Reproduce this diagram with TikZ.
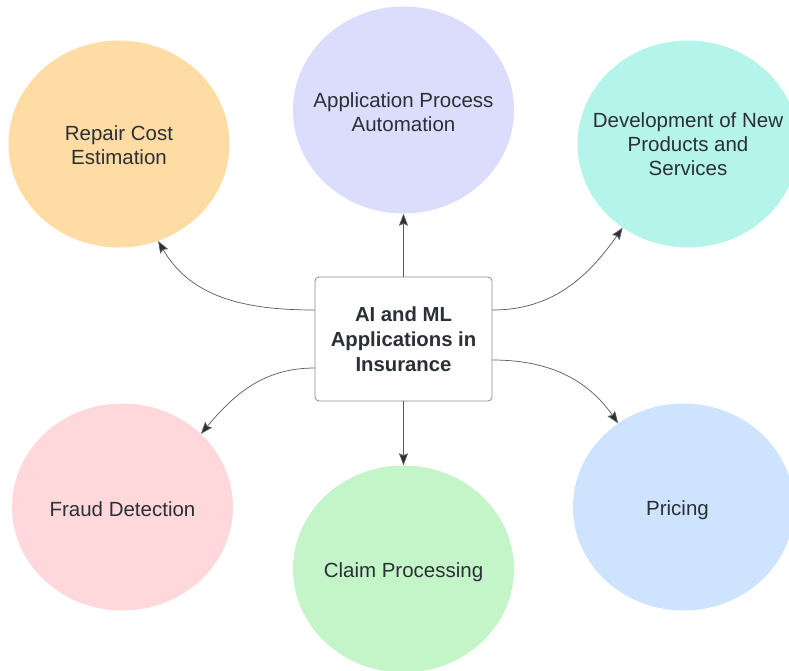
\documentclass[tikz,border=0pt]{standalone}
\usepackage{fontspec}
\setmainfont{Liberation Sans}
\usetikzlibrary{arrows.meta,shapes.geometric}
\definecolor{txt}{HTML}{2B2F36}
\definecolor{cRepair}{HTML}{FEDCA4}
\definecolor{cApp}{HTML}{DCDCFC}
\definecolor{cDev}{HTML}{B4F4EA}
\definecolor{cFraud}{HTML}{FED8DB}
\definecolor{cClaim}{HTML}{C4F5C8}
\definecolor{cPrice}{HTML}{CEE3FD}
\begin{document}
\begin{tikzpicture}[x=1pt,y=-1pt,
  topic/.style={ellipse,minimum width=221pt,minimum height=207pt,inner sep=0pt},
  topictext/.style={align=center,text=txt,font=\fontsize{20.5}{24}\selectfont},
  hub/.style={draw=black!45,line width=0.8pt,rounded corners=4pt,fill=white,
    minimum width=177pt,minimum height=124pt,align=center,text=txt,
    font=\fontsize{20.3}{25}\selectfont\bfseries},
  link/.style={draw=black!65,line width=0.7pt,-{Stealth[length=12pt,width=9pt,inset=2pt,fill=txt]}}]
\useasboundingbox (0,0) rectangle (789,670);
\fill[white] (0,0) rectangle (789,670);
\node[topic,fill=cRepair] (rep) at (119,144) {};
\node[topictext] (repT) at ([yshift=-1pt]rep.center) {Repair Cost\\Estimation};
\node[topic,fill=cApp] (app) at (403.5,110) {};
\node[topictext] (appT) at ([yshift=-2pt]app.center) {Application Process\\Automation};
\node[topic,fill=cDev] (dev) at (688,144) {};
\node[topictext] (devT) at (dev.center) {Development of New\\Products and\\Services};
\node[topic,fill=cFraud] (fra) at (122.5,507) {};
\node[topictext] (fraT) at ([yshift=-2pt]fra.center) {Fraud Detection};
\node[topic,fill=cClaim] (cla) at (403.5,569) {};
\node[topictext] (claT) at ([yshift=-3pt]cla.center) {Claim Processing};
\node[topic,fill=cPrice] (pri) at (683.5,507) {};
\node[topictext] (priT) at ([yshift=-3pt,xshift=-6pt]pri.center) {Pricing};
\node[hub] (hub) at (403.5,339) {AI and ML\\Applications in\\Insurance};
\draw[link] (hub.north) -- (app.south);
\draw[link] (hub.south) -- (cla.north);
\draw[link] ([yshift=29pt]hub.west) to[out=180,in=-60] (rep.-68);
\draw[link] ([yshift=29pt]hub.east) to[out=0,in=-125] (dev.-128);
\draw[link] ([yshift=-29pt]hub.west) to[out=180,in=50] (fra.43);
\draw[link] ([yshift=-21pt]hub.east) to[out=0,in=125] (pri.128);
\end{tikzpicture}
\end{document}
